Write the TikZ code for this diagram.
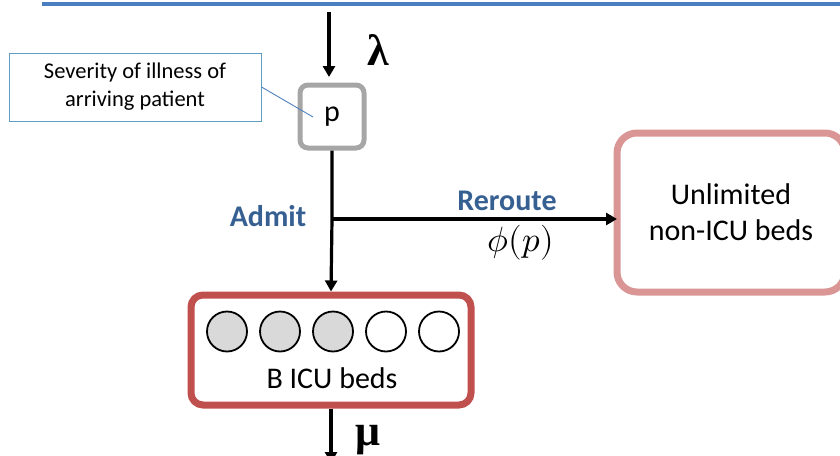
\documentclass[tikz,border=0pt]{standalone}
\usepackage{unicode-math}
\setmainfont{Carlito}
\setmathfont{Latin Modern Math}
\newfontfamily\greekfont{Liberation Serif}
\usetikzlibrary{arrows.meta,calc}

\definecolor{rulebar}{RGB}{74,126,193}
\definecolor{calloutline}{RGB}{95,158,192}
\definecolor{leaderline}{RGB}{79,129,189}
\definecolor{pboxgray}{RGB}{166,166,166}
\definecolor{icured}{RGB}{192,80,77}
\definecolor{wardpink}{RGB}{217,150,148}
\definecolor{labelblue}{RGB}{55,96,146}
\definecolor{busybed}{RGB}{217,217,217}

\tikzset{
  flow/.style={line width=3.2pt, -{Triangle[length=11pt,width=12pt]}},
  bigtext/.style={font=\fontsize{30}{36}\selectfont},
  greek/.style={font=\fontsize{44}{48}\selectfont\greekfont\bfseries, inner sep=0pt},
  tag/.style={font=\fontsize{30}{36}\selectfont\bfseries, text=labelblue, inner sep=0pt},
  bed/.style={circle, draw=black, line width=1.8pt, minimum size=40pt, inner sep=0pt},
}

\begin{document}
\begin{tikzpicture}[x=1pt, y=-1pt]
  \useasboundingbox (0,0) rectangle (840,455);
  \clip (0,0) rectangle (840,455);

  % heading rule
  \draw[rulebar, line width=4pt] (42,4) -- (840,4);

  % severity box and its callout
  \node[draw=pboxgray, line width=5pt, rounded corners=8pt,
        minimum width=64pt, minimum height=63pt, bigtext] (p) at (332,116.5) {p};
  \node[draw=calloutline, line width=1pt, minimum width=252pt, minimum height=68pt,
        align=center, font=\fontsize{22.5}{28}\selectfont] (note) at (135,87)
        {Severity of illness of\\arriving patient};
  \coordinate (pin) at (313,117);
  \draw[leaderline, line width=0.9pt] (note.east) -- (pin);

  % arrivals
  \coordinate (lamsrc) at (329,12);
  \coordinate (lamtip) at (329,77);
  \draw[flow] (lamsrc) -- (lamtip);
  \node[greek] (lam) at (378,50.5) {λ};

  % destinations
  \node[draw=icured, line width=7pt, rounded corners=12pt,
        minimum width=280pt, minimum height=110pt] (icu) at (331,350) {};
  \node[draw=wardpink, line width=7pt, rounded corners=20pt, outer sep=0pt,
        minimum width=228pt, minimum height=159pt, align=center, bigtext]
        (ward) at (731,212.5) {Unlimited\\non-ICU beds};

  % beds
  \foreach \i/\x/\f in {1/227/busybed, 2/280/busybed, 3/333/busybed, 4/386/white, 5/439/white}
    \node[bed, fill=\f] (bed\i) at (\x,331.5) {};
  \node[bigtext, anchor=base, inner sep=0pt] (icutxt) at (332,388) {B ICU beds};

  % routing
  \coordinate (br) at (332,219);
  \draw[flow] (p.south) -- (br) -- (icu.north);
  \draw[flow] (br) -- (br -| ward.west);
  \node[tag, anchor=base] (admit) at (268,226) {Admit};
  \node[tag, anchor=base] (reroute) at (507,210) {Reroute};
  \node[font=\fontsize{35}{40}\selectfont, inner sep=0pt] (phi) at (521,243) {$\phi(p)$};

  % departures
  \coordinate (out) at (331,463);
  \draw[flow] (icu.south -| out) -- (out);
  \node[greek] (mu) at (368,440) {μ};
\end{tikzpicture}
\end{document}
